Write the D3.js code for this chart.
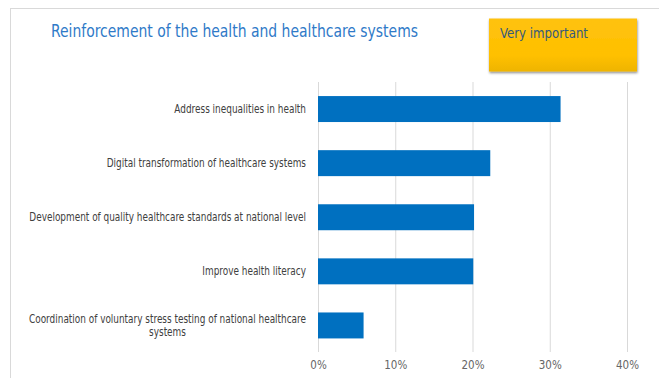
<!DOCTYPE html>
<html>
<head>
<meta charset="utf-8">
<script src="https://cdn.jsdelivr.net/npm/d3@7"></script>
<style>
  html, body { margin: 0; padding: 0; background: #ffffff; }
  svg { display: block; }
  .narrow { font-family: "Liberation Sans Narrow", "DejaVu Sans Condensed", "Arial Narrow", sans-serif; }
</style>
</head>
<body>
<svg id="chart" width="659" height="378"></svg>
<script>
// Share of respondents rating each measure "Very important"
const categories = [
  "Address inequalities in health",
  "Digital transformation of healthcare systems",
  "Development of quality healthcare standards at national level",
  "Improve health literacy",
  "Coordination of voluntary stress testing of national healthcare systems"
];
const values = [0.314, 0.223, 0.202, 0.201, 0.059];
const tickValues = [0, 0.1, 0.2, 0.3, 0.4];
const titleText = "Reinforcement of the health and healthcare systems";
const legendText = "Very important";

const svg = d3.select("#chart");

// Outer frame
svg.append("rect")
  .attr("x", 10.5).attr("y", 8.5)
  .attr("width", 700).attr("height", 400)
  .attr("fill", "none")
  .attr("stroke", "#d9d9d9")
  .attr("stroke-width", 1);

const x = d3.scaleLinear().domain([0, 0.4]).range([318, 627]);
const y = d3.scaleBand().domain(categories).range([82, 352.5])
  .paddingInner(0.52).paddingOuter(0.26);

// Title
svg.append("text")
  .attr("class", "narrow")
  .attr("x", 51).attr("y", 37)
  .attr("font-size", 17)
  .attr("fill", "#2f7ac8")
  .attr("textLength", 367)
  .attr("lengthAdjust", "spacingAndGlyphs")
  .text(titleText);

// Legend box with drop shadow
const defs = svg.append("defs");
const grad = defs.append("linearGradient").attr("id", "gold").attr("x1", 0).attr("y1", 0).attr("x2", 0).attr("y2", 1);
grad.append("stop").attr("offset", "0%").attr("stop-color", "#ffc20e");
grad.append("stop").attr("offset", "70%").attr("stop-color", "#ffc000");
grad.append("stop").attr("offset", "100%").attr("stop-color", "#eeb400");
const shadow = defs.append("filter").attr("id", "shadow").attr("x", "-10%").attr("y", "-10%").attr("width", "130%").attr("height", "140%");
shadow.append("feDropShadow").attr("dx", 0.5).attr("dy", 1.5).attr("stdDeviation", 1.2)
  .attr("flood-color", "#000").attr("flood-opacity", 0.45);

svg.append("rect")
  .attr("x", 489).attr("y", 18.5)
  .attr("width", 148).attr("height", 53)
  .attr("fill", "url(#gold)")
  .attr("filter", "url(#shadow)");
svg.append("text")
  .attr("class", "narrow")
  .attr("x", 500).attr("y", 37.5)
  .attr("font-size", 14.5)
  .attr("fill", "#355a7c")
  .attr("textLength", 88)
  .attr("lengthAdjust", "spacingAndGlyphs")
  .text(legendText);

// Vertical gridlines
svg.append("g")
  .selectAll("line")
  .data(tickValues)
  .join("line")
  .attr("x1", d => x(d) + 0.5).attr("x2", d => x(d) + 0.5)
  .attr("y1", 82).attr("y2", 352)
  .attr("stroke", "#d9d9d9")
  .attr("stroke-width", 1);

// Bars
svg.append("g")
  .selectAll("rect")
  .data(values)
  .join("rect")
  .attr("x", x(0))
  .attr("y", (d, i) => y(categories[i]))
  .attr("width", d => x(d) - x(0))
  .attr("height", y.bandwidth())
  .attr("fill", "#0070c0");

// X axis tick labels
const xAxis = d3.axisBottom(x).tickValues(tickValues).tickFormat(d3.format(".0%")).tickSize(0);
const gx = svg.append("g").attr("transform", "translate(0,358)").call(xAxis);
gx.select(".domain").remove();
gx.selectAll("text")
  .attr("class", "narrow")
  .attr("font-size", 11.5)
  .attr("fill", "#666666");

// Category labels: condensed horizontally, wrapped, centred as a block
// whose right edge sits just left of the plot
const labelRight = 306;
const squeeze = 0.825;
const maxWidth = 285 / squeeze;
const labels = svg.append("g").attr("class", "narrow")
  .attr("transform", `translate(${labelRight},0) scale(${squeeze},1)`)
  .attr("font-size", 12).attr("fill", "#404040");

categories.forEach(cat => {
  const cy = y(cat) + y.bandwidth() / 2;
  const probe = labels.append("text").attr("visibility", "hidden");
  const words = cat.split(" ");
  const lines = [];
  let line = [];
  words.forEach(w => {
    probe.text(line.concat([w]).join(" "));
    if (line.length && probe.node().getComputedTextLength() > maxWidth) {
      lines.push(line.join(" "));
      line = [w];
    } else {
      line.push(w);
    }
  });
  lines.push(line.join(" "));
  let blockW = 0;
  lines.forEach(l => { probe.text(l); blockW = Math.max(blockW, probe.node().getComputedTextLength()); });
  probe.remove();
  const lh = 13.5;
  const t = labels.append("text").attr("text-anchor", "middle");
  lines.forEach((l, i) => {
    t.append("tspan")
      .attr("x", -blockW / 2)
      .attr("y", cy + 4 + (i - (lines.length - 1) / 2) * lh)
      .text(l);
  });
});
</script>
</body>
</html>
